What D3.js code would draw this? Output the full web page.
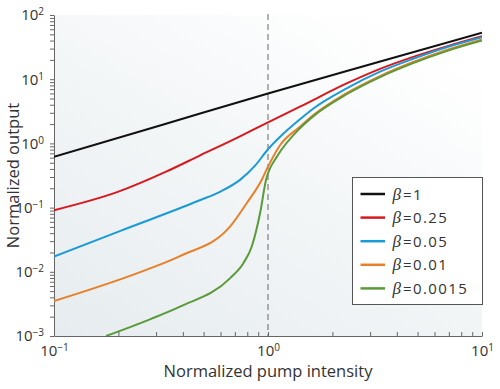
<!DOCTYPE html>
<meta charset="utf-8">
<html>
<head>
<style>
  body { margin: 0; background: #fff; }
  text { font-family: "Open Sans", sans-serif; fill: #333; }
  .axis path, .axis line { stroke: #666; }
</style>
<script src="https://d3js.org/d3.v7.min.js"></script>
</head>
<body>
<svg width="500" height="389"></svg>
<script>
// values
var xTicks = [0.1, 1, 10];
var yTicks = [0.001, 0.01, 0.1, 1, 10, 100];
var xExp = ["\u22121", "0", "1"];
var yExp = ["\u22123", "\u22122", "\u22121", "0", "1", "2"];

var betaLabels = ["1", "0.25", "0.05", "0.01", "0.0015"];
var colors = ["#111111", "#d7191f", "#1a9ad6", "#e8802a", "#5b9a3a"];

var b1X = [0.1, 0.316, 1, 3.16, 10];
var b1Y = [0.62, 1.92, 6.0, 17.9, 53];

var b2X = [0.1, 0.2, 0.336, 0.48, 0.74, 1, 1.41, 2.33, 3.34, 4.77, 6.84, 10];
var b2Y = [0.091, 0.177, 0.366, 0.647, 1.29, 2.13, 3.73, 8.6, 14.5, 22.3, 32.5, 46.7];

var b3X = [0.1, 0.203, 0.48, 0.6, 0.74, 0.87, 1, 1.14, 1.41, 1.63, 2.33, 3.34, 4.77, 6.84, 10];
var b3Y = [0.0172, 0.0431, 0.13, 0.178, 0.27, 0.45, 0.81, 1.27, 2.37, 3.5, 7.2, 13.1, 20.8, 31.4, 45];

var b4X = [0.1, 0.281, 0.388, 0.664, 0.795, 0.934, 1, 1.14, 1.41, 1.63, 2.33, 3.34, 4.77, 6.84, 10];
var b4Y = [0.0035, 0.0113, 0.0176, 0.0505, 0.117, 0.269, 0.434, 0.944, 1.82, 2.77, 6.08, 11.2, 18.5, 28.5, 41.7];

var b5X = [0.175, 0.281, 0.388, 0.664, 0.767, 0.839, 0.918, 0.979, 1, 1.1, 1.41, 1.63, 2.33, 3.34, 4.77, 6.84, 10];
var b5Y = [0.001, 0.00182, 0.00286, 0.0079, 0.0136, 0.0246, 0.0815, 0.269, 0.342, 0.62, 1.72, 2.66, 5.83, 10.8, 17.8, 27.4, 40];

var seriesX = [b1X, b2X, b3X, b4X, b5X];
var seriesY = [b1Y, b2Y, b3Y, b4Y, b5Y];

var svg = d3.select("svg"),
    margin = {top: 15, right: 18, bottom: 53, left: 54},
    width = +svg.attr("width") - margin.left - margin.right,
    height = +svg.attr("height") - margin.top - margin.bottom;

var defs = svg.append("defs");
var grad = defs.append("linearGradient")
    .attr("id", "bg")
    .attr("x1", "0").attr("y1", "1")
    .attr("x2", "0.75").attr("y2", "0");
grad.append("stop").attr("offset", "0").attr("stop-color", "#e6ecef");
grad.append("stop").attr("offset", "0.55").attr("stop-color", "#f3f6f7");
grad.append("stop").attr("offset", "1").attr("stop-color", "#ffffff");

defs.append("clipPath").attr("id", "clip")
  .append("rect").attr("width", width).attr("height", height);

var g = svg.append("g").attr("transform", "translate(" + margin.left + "," + margin.top + ")");

var x = d3.scaleLog().domain([0.1, 10]).range([0, width]),
    y = d3.scaleLog().domain([0.001, 100]).range([height, 0]);

g.append("rect")
    .attr("width", width)
    .attr("height", height)
    .attr("fill", "url(#bg)");

function minorTicks(lo, hi) {
  var t = [];
  for (var e = lo; e < hi; e++) {
    for (var k = 1; k < 10; k++) t.push(k * Math.pow(10, e));
  }
  t.push(Math.pow(10, hi));
  return t;
}

function majorIndex(list, v) {
  return list.findIndex(function(m) { return Math.abs(m - v) / m < 1e-9; });
}

// x axis, ticks pointing inward
var xAxis = g.append("g")
    .attr("class", "axis")
    .attr("transform", "translate(0," + height + ")")
    .call(d3.axisBottom(x)
      .tickValues(minorTicks(-1, 1))
      .tickSize(-4)
      .tickSizeOuter(0)
      .tickPadding(9)
      .tickFormat(function(d) { return ""; }));

xAxis.selectAll(".tick text").each(function(d) {
  var i = majorIndex(xTicks, d);
  if (i < 0) return;
  var t = d3.select(this).attr("font-size", "15px").attr("font-family", null);
  t.text("10");
  t.append("tspan").attr("dy", "-0.5em").attr("font-size", "10px").text(xExp[i]);
});

// y axis, ticks pointing outward
var yAxis = g.append("g")
    .attr("class", "axis")
    .call(d3.axisLeft(y)
      .tickValues(minorTicks(-3, 2))
      .tickSize(4)
      .tickSizeOuter(0)
      .tickPadding(6)
      .tickFormat(function(d) { return ""; }));

yAxis.selectAll(".tick text").each(function(d) {
  var i = majorIndex(yTicks, d);
  if (i < 0) return;
  var t = d3.select(this).attr("font-size", "15px").attr("font-family", null);
  t.text("10");
  t.append("tspan").attr("dy", "-0.5em").attr("font-size", "10px").text(yExp[i]);
});

// threshold line
g.append("line")
    .attr("x1", x(1)).attr("x2", x(1))
    .attr("y1", -1).attr("y2", height)
    .attr("stroke", "#666")
    .attr("stroke-width", 1)
    .attr("stroke-dasharray", "6,4");

var line = d3.line()
    .curve(d3.curveMonotoneX)
    .x(function(d) { return x(d[0]); })
    .y(function(d) { return y(d[1]); });

var curves = g.append("g").attr("clip-path", "url(#clip)");
seriesX.forEach(function(xs, s) {
  var pts = xs.map(function(v, i) { return [v, seriesY[s][i]]; });
  curves.append("path")
      .datum(pts)
      .attr("fill", "none")
      .attr("stroke", colors[s])
      .attr("stroke-width", 2)
      .attr("d", line);
});

// legend
var lg = svg.append("g").attr("transform", "translate(352.5,177.5)");
lg.append("rect")
    .attr("width", 130)
    .attr("height", 127)
    .attr("fill", "#fff")
    .attr("stroke", "#555")
    .attr("stroke-width", 1);

betaLabels.forEach(function(lab, i) {
  var yy = 16.5 + i * 23.6;
  lg.append("line")
      .attr("x1", 8).attr("x2", 32.5)
      .attr("y1", yy).attr("y2", yy)
      .attr("stroke", colors[i])
      .attr("stroke-width", 2.5);
  var t = lg.append("text")
      .attr("x", 40)
      .attr("y", yy + 5.5)
      .attr("font-size", "15px");
  t.append("tspan")
      .attr("font-style", "italic")
      .attr("font-size", "17px")
      .style("font-family", "'Liberation Serif', serif")
      .text("\u03b2");
  t.append("tspan")
      .attr("dx", 2)
      .style("letter-spacing", "1.4px")
      .text("=" + lab);
});

// axis titles
svg.append("text")
    .attr("x", margin.left + width / 2)
    .attr("y", 377)
    .attr("text-anchor", "middle")
    .attr("font-size", "16.5px")
    .text("Normalized pump intensity");

svg.append("text")
    .attr("transform", "rotate(-90)")
    .attr("x", -(margin.top + height / 2))
    .attr("y", 19)
    .attr("text-anchor", "middle")
    .attr("font-size", "16.5px")
    .text("Normalized output");
</script>
</body>
</html>
